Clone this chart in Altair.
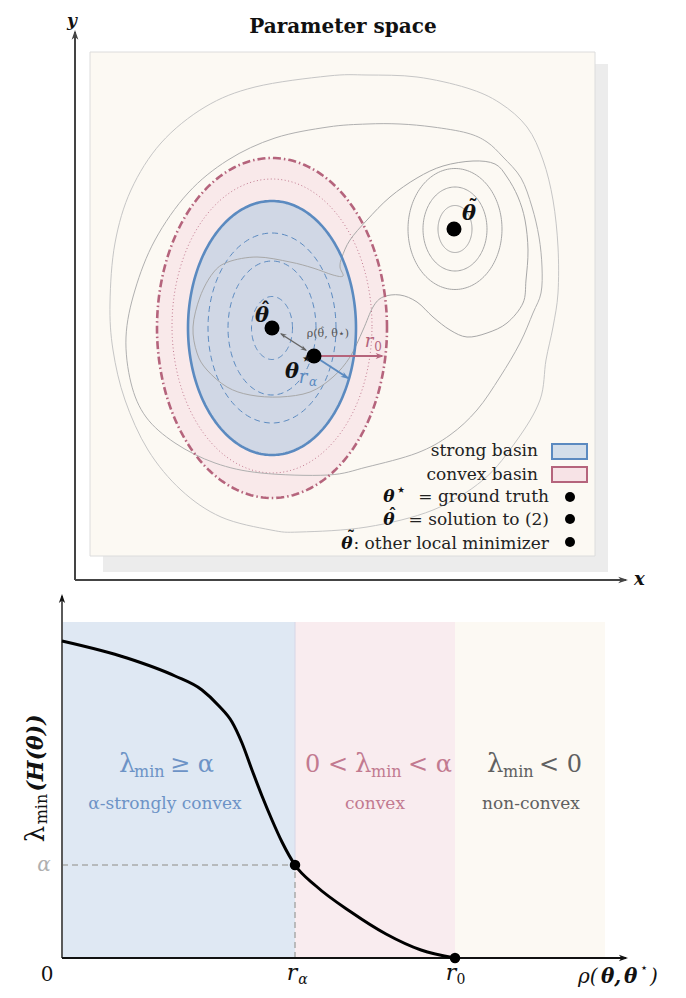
import altair as alt
import numpy as np
import pandas as pd

SERIF = "DejaVu Serif"
ARROW = "M0,0L0.55,1.6L0,1.15L-0.55,1.6Z"

# ================= TOP PANEL: parameter space (1 unit = 10 px) =================
TOP_XDOM = [-6.7, 60.3]
TOP_YDOM = [-0.8, 57.2]

shadow_box = {"x": [2.8], "x2": [53.3], "y": [0.8], "y2": [51.6]}
frame_box = {"x": [1.5], "x2": [52.0], "y": [2.4], "y2": [52.8]}

basin_center = [19.7, 25.2]
strong_radii = [8.4, 12.7]
convex_radii = [11.5, 17.0]
dotted_center = [19.7, 25.4]
dotted_radii = [10.0, 14.7]
strong_dashed_rx = [6.4, 4.4, 2.05]
strong_dashed_ry = [9.5, 6.7, 3.15]

tilde_center = [38.0, 35.1]
tilde_rx = [1.7, 3.2, 4.7]
tilde_ry = [2.35, 4.2, 6.05]

outer_x = [25.3, 29.2, 34.2, 39.2, 42.5, 45.2, 46.8, 47.8, 48.3, 48.3, 47.8, 47.1, 46.5, 44.2, 40.8,
           35.8, 29.2, 22.5, 19.6, 14.6, 10.6, 7.3, 5.0, 3.8, 3.5, 4.0, 5.6, 8.6, 13.0, 18.0]
outer_y = [50.4, 50.5, 50.3, 49.2, 47.7, 45.3, 42.0, 38.0, 33.3, 28.7, 25.3, 22.0, 18.0, 14.0, 10.0,
           7.0, 5.3, 4.8, 5.0, 6.3, 9.0, 13.0, 18.0, 23.0, 27.7, 33.7, 39.0, 43.7, 47.3, 49.3]

middle_x = [25.3, 29.2, 32.5, 35.8, 39.2, 41.2, 42.8, 44.6, 45.7, 46.4, 46.7, 46.6, 45.8, 44.5, 42.5,
            40.2, 37.5, 34.2, 29.2, 25.3, 18.6, 14.0, 10.0, 7.1, 5.6, 5.1, 6.0, 8.0, 11.3, 15.3, 20.0]
middle_y = [45.3, 45.6, 45.6, 45.3, 44.7, 43.8, 42.3, 40.2, 37.3, 34.3, 31.3, 28.7, 26.7, 23.7, 20.3,
            17.0, 14.5, 12.7, 11.3, 10.5, 10.7, 11.7, 13.7, 16.3, 19.7, 24.3, 29.0, 34.0, 38.7, 42.0, 44.2]

peanut_x = [26.8, 25.8, 23.8, 21.5, 18.2, 15.3, 13.8, 12.5, 11.8, 12.2, 13.2, 15.2, 17.5, 20.5, 23.5,
            25.8, 27.5, 28.8, 29.8, 30.8, 32.5, 34.2, 35.8, 37.5, 39.2, 41.2, 43.2, 44.8, 45.1, 45.3,
            45.0, 44.3, 43.2, 42.0, 39.8, 36.8, 34.2, 31.5, 29.2, 27.5, 26.7, 26.5]
peanut_y = [30.4, 30.5, 31.2, 31.8, 32.3, 31.8, 30.7, 28.3, 25.3, 22.7, 21.0, 19.3, 18.5, 18.3, 18.8,
            20.3, 22.3, 25.0, 27.3, 28.3, 28.5, 27.8, 26.3, 25.0, 24.3, 24.7, 25.7, 27.7, 30.0, 33.0,
            36.0, 38.3, 40.3, 41.6, 41.9, 41.4, 40.2, 38.3, 36.0, 34.0, 32.3, 31.3]

minima_x = [19.7, 23.9, 37.9]          # theta_hat, theta_star, theta_tilde
minima_y = [25.2, 22.4, 35.1]

# arrows: start x, start y, end x, end y, colour
arrow_x1 = [0.0, 0.0, 23.9, 23.9, 20.6]
arrow_y1 = [0.0, 0.0, 22.4, 22.4, 24.6]
arrow_x2 = [0.0, 55.1, 30.7, 27.3, 23.1]
arrow_y2 = [54.8, 0.0, 22.4, 20.2, 23.0]
arrow_col = ["#444444", "#444444", "#b5647c", "#5b8ac0", "#666666"]
arrow_w = [2.0, 2.0, 2.0, 2.0, 1.4]
head_x = [0.0, 55.3, 30.9, 27.4, 23.2, 20.5]
head_y = [55.0, 0.0, 22.4, 20.1, 22.9, 24.7]
head_angle = [0, 90, 90, 123, 123, 303]
head_col = ["#444444", "#444444", "#b5647c", "#5b8ac0", "#666666", "#666666"]
head_size = [150, 150, 110, 110, 70, 70]

legend_sw_y = [12.1, 9.8]
legend_sw_y2 = [13.6, 11.3]
legend_sw_fill = ["#d3deea", "#f7e3e6"]
legend_sw_stroke = ["#5b8ac0", "#b5647c"]
legend_dot_y = [8.3, 6.1, 3.8]

# ================= BOTTOM PANEL: lambda_min vs rho =================
BOT_XDOM = [-0.54, 6.16]
BOT_YDOM = [-0.30, 3.68]

r_alpha = 2.33
r_zero = 3.93
alpha = 0.93
band_top = 3.36
band_start = [0.0, 2.33, 3.93]
band_end = [2.33, 3.93, 5.43]
band_col = ["#dfe8f3", "#f9ecef", "#fcf9f3"]

rho_curve = [0.00, 0.65, 1.13, 1.40, 1.57, 1.70, 1.80, 1.90, 2.00, 2.10, 2.20, 2.33, 2.54, 2.89, 3.24, 3.59, 3.93]
lam_curve = [3.17, 3.00, 2.82, 2.68, 2.52, 2.36, 2.15, 1.88, 1.62, 1.38, 1.16, 0.93, 0.72, 0.46, 0.24, 0.08, 0.00]

BLUE_T = "#6d93c6"
PINK_T = "#c27a90"
GRAY_T = "#606060"


# ---------------- helpers ----------------
def sc(dom):
    return alt.Scale(domain=dom, nice=False, zero=False)


def TX(f):
    return alt.X(f"{f}:Q", scale=sc(TOP_XDOM), axis=None)


def TY(f):
    return alt.Y(f"{f}:Q", scale=sc(TOP_YDOM), axis=None)


def BX(f):
    return alt.X(f"{f}:Q", scale=sc(BOT_XDOM), axis=None)


def BY(f):
    return alt.Y(f"{f}:Q", scale=sc(BOT_YDOM), axis=None)


def ring(cx, cy, rx, ry, n=160, key=0):
    t = np.linspace(0, 2 * np.pi, n, endpoint=False)
    return pd.DataFrame({"x": cx + rx * np.cos(t), "y": cy + ry * np.sin(t), "o": np.arange(n), "k": key})


def disc(cx, cy, rx, ry, n=200):
    t = np.linspace(np.pi, 0, n)
    return pd.DataFrame({"x": cx + rx * np.cos(t), "y": cy - ry * np.sin(t), "y2": cy + ry * np.sin(t)})


def curve(xs, ys):
    return pd.DataFrame({"x": xs, "y": ys, "o": range(len(xs))})


def texts(rows, X, Y, **mk):
    df = pd.DataFrame(rows, columns=["t", "x", "y", "s", "c"])
    return alt.Chart(df).mark_text(font=SERIF, **mk).encode(
        x=X("x"), y=Y("y"), text="t:N",
        size=alt.Size("s:Q", scale=None), color=alt.Color("c:N", scale=None))


# ---------------- top panel layers ----------------
L = []
L.append(alt.Chart(pd.DataFrame(shadow_box)).mark_rect(color="#ececec").encode(
    x=TX("x"), x2="x2:Q", y=TY("y"), y2="y2:Q"))
L.append(alt.Chart(pd.DataFrame(frame_box)).mark_rect(fill="#fcf9f3", stroke="#dcdcdc", strokeWidth=1).encode(
    x=TX("x"), x2="x2:Q", y=TY("y"), y2="y2:Q"))

cx, cy = basin_center
L.append(alt.Chart(disc(cx, cy, *convex_radii)).mark_area(color="#f9e9ea").encode(
    x=TX("x"), y=TY("y"), y2="y2:Q"))
L.append(alt.Chart(ring(dotted_center[0], dotted_center[1], *dotted_radii, n=240)).mark_line(
    color="#c27a90", strokeWidth=1, strokeDash=[1, 2.5], interpolate="linear-closed").encode(
    x=TX("x"), y=TY("y"), order="o:Q"))
L.append(alt.Chart(disc(cx, cy, *strong_radii)).mark_area(color="#d0d7e5").encode(
    x=TX("x"), y=TY("y"), y2="y2:Q"))

dash_df = pd.concat([ring(cx, cy, rx, ry, key=i) for i, (rx, ry) in enumerate(zip(strong_dashed_rx, strong_dashed_ry))])
L.append(alt.Chart(dash_df).mark_line(color="#5b8ac0", strokeWidth=1, strokeDash=[6, 4],
                                      interpolate="linear-closed").encode(
    x=TX("x"), y=TY("y"), order="o:Q", detail="k:N"))

tilde_df = pd.concat([ring(tilde_center[0], tilde_center[1], rx, ry, key=i) for i, (rx, ry) in enumerate(zip(tilde_rx, tilde_ry))])
L.append(alt.Chart(tilde_df).mark_line(color="#a8a8a8", strokeWidth=1, interpolate="linear-closed").encode(
    x=TX("x"), y=TY("y"), order="o:Q", detail="k:N"))

L.append(alt.Chart(curve(outer_x, outer_y)).mark_line(color="#c6c6c6", strokeWidth=1, interpolate="cardinal-closed").encode(
    x=TX("x"), y=TY("y"), order="o:Q"))
L.append(alt.Chart(curve(middle_x, middle_y)).mark_line(color="#b0b0b0", strokeWidth=1, interpolate="cardinal-closed").encode(
    x=TX("x"), y=TY("y"), order="o:Q"))
L.append(alt.Chart(curve(peanut_x, peanut_y)).mark_line(color="#a8a8a8", strokeWidth=1, interpolate="cardinal-closed").encode(
    x=TX("x"), y=TY("y"), order="o:Q"))

L.append(alt.Chart(ring(cx, cy, *strong_radii, n=240)).mark_line(color="#5b8ac0", strokeWidth=2.6,
                                                                   interpolate="linear-closed").encode(
    x=TX("x"), y=TY("y"), order="o:Q"))
L.append(alt.Chart(ring(cx, cy, *convex_radii, n=240)).mark_line(color="#b5647c", strokeWidth=2.6,
                                                                  strokeDash=[8, 3, 1.5, 3],
                                                                  interpolate="linear-closed").encode(
    x=TX("x"), y=TY("y"), order="o:Q"))

arr_df = pd.DataFrame({"x": arrow_x1, "y": arrow_y1, "x2": arrow_x2, "y2": arrow_y2, "c": arrow_col, "w": arrow_w})
L.append(alt.Chart(arr_df).mark_rule().encode(
    x=TX("x"), y=TY("y"), x2="x2:Q", y2="y2:Q",
    color=alt.Color("c:N", scale=None), strokeWidth=alt.StrokeWidth("w:Q", scale=None)))
head_df = pd.DataFrame({"x": head_x, "y": head_y, "a": head_angle, "c": head_col, "s": head_size})
L.append(alt.Chart(head_df).mark_point(shape=ARROW, filled=True, opacity=1, strokeWidth=0).encode(
    x=TX("x"), y=TY("y"), angle=alt.Angle("a:Q", scale=None),
    color=alt.Color("c:N", scale=None), size=alt.Size("s:Q", scale=None)))

L.append(alt.Chart(pd.DataFrame({"x": minima_x, "y": minima_y})).mark_circle(
    color="black", size=225, opacity=1).encode(x=TX("x"), y=TY("y")))

# legend
sw_df = pd.DataFrame({"x": [47.7, 47.7], "x2": [51.2, 51.2], "y": legend_sw_y, "y2": legend_sw_y2,
                      "f": legend_sw_fill, "s": legend_sw_stroke})
L.append(alt.Chart(sw_df).mark_rect(strokeWidth=2).encode(
    x=TX("x"), x2="x2:Q", y=TY("y"), y2="y2:Q",
    fill=alt.Fill("f:N", scale=None), stroke=alt.Stroke("s:N", scale=None)))
L.append(alt.Chart(pd.DataFrame({"x": [49.5] * 3, "y": legend_dot_y})).mark_circle(
    color="black", size=100, opacity=1).encode(x=TX("x"), y=TY("y")))

L.append(texts([("strong basin", 46.3, 12.9, 17, "#222"), ("convex basin", 46.3, 10.5, 17, "#222"),
                ("= ground truth", 47.4, 8.3, 17, "#222"), ("= solution to (2)", 47.4, 6.0, 17, "#222"),
                (": other local minimizer", 47.4, 3.6, 17, "#222")],
               TX, TY, align="right", baseline="middle"))
# bold thetas (legend + labels)
L.append(texts([("θ", 31.4, 8.3, 17, "#111"), ("θ", 31.4, 6.0, 17, "#111"), ("θ", 27.2, 3.6, 17, "#111"),
                ("θ", 39.4, 36.6, 21, "#111"), ("θ", 18.7, 26.4, 21, "#111"), ("θ", 21.7, 20.8, 21, "#111")],
               TX, TY, align="center", baseline="middle", fontWeight="bold", fontStyle="italic"))
# accents: hats and tildes placed just above the thetas
L.append(texts([("ˆ", 31.75, 6.55, 16, "#111"), ("˜", 27.6, 4.2, 16, "#111"),
                ("˜", 39.8, 37.3, 19, "#111"), ("ˆ", 19.05, 27.05, 19, "#111")],
               TX, TY, align="center", baseline="middle", fontWeight="bold"))
# stars
L.append(texts([("⋆", 32.6, 9.0, 13, "#111"), ("⋆", 23.1, 22.1, 14, "#111")],
               TX, TY, align="center", baseline="middle", fontWeight="bold"))
L.append(texts([("Parameter space", 26.8, 55.3, 20, "#111")], TX, TY, align="center", baseline="middle",
               fontWeight="bold"))
L.append(texts([("y", -0.3, 55.9, 17, "#111")], TX, TY, align="center", baseline="middle",
               fontWeight="bold", fontStyle="italic"))
L.append(texts([("x", 55.9, 0.0, 18, "#111")], TX, TY, align="left", baseline="middle",
               fontWeight="bold", fontStyle="italic"))
L.append(texts([("ρ(θ, θ⋆)", 25.3, 24.6, 11, "#555")], TX, TY, align="center", baseline="middle"))
L.append(texts([("ˆ", 24.75, 24.95, 9, "#555")], TX, TY, align="center", baseline="middle"))
L.append(texts([("r", 29.4, 23.8, 18, "#b5647c"), ("r", 22.8, 20.2, 18, "#5b8ac0"), ("α", 23.8, 19.8, 12, "#5b8ac0")],
               TX, TY, align="center", baseline="middle", fontStyle="italic"))
L.append(texts([("0", 30.3, 23.3, 12, "#b5647c")], TX, TY, align="center", baseline="middle"))

top = alt.layer(*L).properties(width=670, height=580)

# ---------------- bottom panel layers ----------------
B = []
bands = pd.DataFrame({"x": band_start, "x2": band_end, "y": [0.0] * 3, "y2": [band_top] * 3, "c": band_col})
B.append(alt.Chart(bands).mark_rect().encode(
    x=BX("x"), x2="x2:Q", y=BY("y"), y2="y2:Q", color=alt.Color("c:N", scale=None)))
B.append(alt.Chart(pd.DataFrame({"x": [r_alpha], "y": [alpha], "y2": [band_top]})).mark_rule(
    color="#d6d6e6", strokeWidth=1).encode(x=BX("x"), y=BY("y"), y2="y2:Q"))
guides = pd.DataFrame({"x": [0.0, r_alpha], "x2": [r_alpha, r_alpha], "y": [alpha, 0.0], "y2": [alpha, alpha]})
B.append(alt.Chart(guides).mark_rule(color="#ababab", strokeWidth=1.5, strokeDash=[6, 4]).encode(
    x=BX("x"), x2="x2:Q", y=BY("y"), y2="y2:Q"))

axes_b = pd.DataFrame({"x": [0.0, 0.0], "x2": [0.0, 5.64], "y": [0.0, 0.0], "y2": [3.62, 0.0],
                       "c": ["#5a5a5a", "#111111"], "w": [2.0, 1.8]})
B.append(alt.Chart(axes_b).mark_rule().encode(
    x=BX("x"), x2="x2:Q", y=BY("y"), y2="y2:Q",
    color=alt.Color("c:N", scale=None), strokeWidth=alt.StrokeWidth("w:Q", scale=None)))
B.append(alt.Chart(pd.DataFrame({"x": [0.0, 5.66], "y": [3.64, 0.0], "a": [0, 90]})).mark_point(
    shape=ARROW, filled=True, opacity=1, strokeWidth=0, size=130, color="#111111").encode(
    x=BX("x"), y=BY("y"), angle=alt.Angle("a:Q", scale=None)))

B.append(alt.Chart(curve(rho_curve, lam_curve)).mark_line(color="black", strokeWidth=3,
                                                          interpolate="monotone").encode(
    x=BX("x"), y=BY("y"), order="o:Q"))
B.append(alt.Chart(pd.DataFrame({"x": [r_alpha, r_zero], "y": [alpha, 0.0]})).mark_circle(
    color="black", size=110, opacity=1).encode(x=BX("x"), y=BY("y")))

# region formulas (pieces so that 'min' is a subscript)
B.append(texts([("λ", 0.57, 1.86, 26, BLUE_T), ("≥ α", 1.08, 1.86, 24, BLUE_T),
                ("0 <", 2.43, 1.86, 24, PINK_T), ("λ", 2.93, 1.86, 26, PINK_T), ("< α", 3.46, 1.86, 24, PINK_T),
                ("λ", 4.25, 1.86, 26, GRAY_T), ("< 0", 4.77, 1.86, 24, GRAY_T)],
               BX, BY, align="left", baseline="alphabetic"))
B.append(texts([("min", 0.72, 1.81, 16, BLUE_T), ("min", 3.09, 1.81, 16, PINK_T), ("min", 4.41, 1.81, 16, GRAY_T)],
               BX, BY, align="left", baseline="alphabetic"))
B.append(texts([("α-strongly convex", 1.03, 1.54, 17, BLUE_T), ("convex", 3.13, 1.54, 17, PINK_T),
                ("non-convex", 4.69, 1.54, 17, GRAY_T)], BX, BY, align="center", baseline="middle"))

# axis labels
B.append(texts([("0", -0.15, -0.17, 20, "#111"), ("0", 3.99, -0.22, 14, "#111")],
               BX, BY, align="center", baseline="middle"))
B.append(texts([("r", 2.30, -0.15, 22, "#111"), ("α", 2.41, -0.22, 14, "#111"), ("r", 3.89, -0.15, 22, "#111"),
                ("α", -0.18, 0.93, 20, "#b0b0b0")],
               BX, BY, align="center", baseline="middle", fontStyle="italic"))
B.append(texts([("ρ(", 5.16, -0.19, 20, "#111"), (")", 5.88, -0.19, 20, "#111")],
               BX, BY, align="left", baseline="middle", fontStyle="italic"))
B.append(texts([("θ,", 5.39, -0.19, 20, "#111"), ("θ", 5.62, -0.19, 20, "#111")],
               BX, BY, align="left", baseline="middle", fontStyle="italic", fontWeight="bold"))
B.append(texts([("⋆", 5.78, -0.10, 13, "#111")], BX, BY, align="left", baseline="middle"))
B.append(texts([("λ", -0.26, 1.24, 26, "#111"), ("min", -0.20, 1.49, 16, "#111")],
               BX, BY, align="center", baseline="middle", angle=270))
B.append(texts([("(H(θ))", -0.26, 2.05, 22, "#111")],
               BX, BY, align="center", baseline="middle", angle=270, fontWeight="bold", fontStyle="italic"))

bottom = alt.layer(*B).properties(width=670, height=398)

chart = alt.vconcat(top, bottom, spacing=2).properties(padding=0, bounds="flush").configure_view(stroke=None)

chart.save("out.html", embed_options={"renderer": "svg", "actions": False})
